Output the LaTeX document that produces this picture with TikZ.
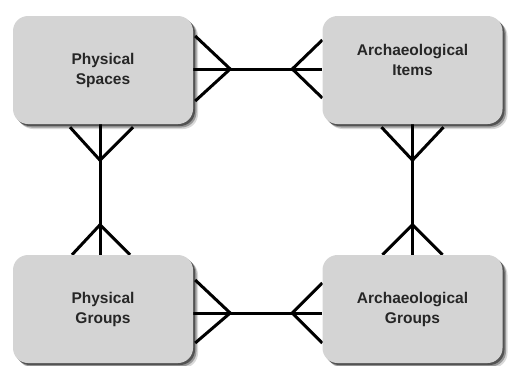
\documentclass[tikz,border=0pt]{standalone}
\usepackage{fontspec}
\setmainfont{Liberation Sans}
\usetikzlibrary{calc,shadows,backgrounds}
\definecolor{boxfill}{HTML}{D4D4D4}
\definecolor{txt}{HTML}{262626}
\tikzset{
  entity/.style={rounded corners=15pt, fill=boxfill, minimum width=180pt, minimum height=108pt,
    inner sep=0pt, align=center, text=txt, font=\bfseries\fontsize{15.5}{20}\selectfont,
    drop shadow={shadow xshift=5pt, shadow yshift=-5pt, opacity=0.15, fill=black},
    drop shadow={shadow xshift=3.5pt, shadow yshift=-3.5pt, opacity=0.3, fill=black},
    drop shadow={shadow xshift=2pt, shadow yshift=-2pt, opacity=0.45, fill=black}},
  conn/.style={line width=3pt, black}
}
\begin{document}
\begin{tikzpicture}[x=1pt,y=-1pt]
\useasboundingbox (0,0) rectangle (510,365);
\node[entity] (ps) at (103,70) {Physical\\Spaces};
\node[entity] (ai) at (412.5,70) {Archaeological\\Items\\\mbox{}};
\node[entity] (pg) at (103,309) {Physical\\Groups};
\node[entity] (ag) at (412.5,309) {Archaeological\\Groups};
\begin{scope}[on background layer]
% top horizontal relationship
\draw[conn] ($(ps.east)+(0,-1)$) -- ($(ai.west)+(0,-1)$);
\draw[conn] ($(ps.east)+(2,-34)$) -- ($(ps.east)+(37,-1)$) -- ($(ps.east)+(2,31)$);
\draw[conn] ($(ai.west)+(0,-30)$) -- ($(ai.west)+(-30,-1)$) -- ($(ai.west)+(0,28)$);
% bottom horizontal relationship
\draw[conn] ($(pg.east)+(0,4)$) -- ($(ag.west)+(0,4)$);
\draw[conn] ($(pg.east)+(2,-29)$) -- ($(pg.east)+(37,4)$) -- ($(pg.east)+(2,34)$);
\draw[conn] ($(ag.west)+(0,-26)$) -- ($(ag.west)+(-30,4)$) -- ($(ag.west)+(0,34)$);
% left vertical relationship
\draw[conn] ($(ps.south)+(-3,0)$) -- ($(pg.north)+(-3,0)$);
\draw[conn] ($(ps.south)+(-33,3)$) -- ($(ps.south)+(-3,36)$) -- ($(ps.south)+(30,3)$);
\draw[conn] ($(pg.north)+(-31,0)$) -- ($(pg.north)+(-3,-30)$) -- ($(pg.north)+(27,0)$);
% right vertical relationship
\draw[conn] (ai.south) -- (ag.north);
\draw[conn] ($(ai.south)+(-31,3)$) -- ($(ai.south)+(0,36)$) -- ($(ai.south)+(31,3)$);
\draw[conn] ($(ag.north)+(-30,0)$) -- ($(ag.north)+(0,-30)$) -- ($(ag.north)+(30,0)$);
\end{scope}
\end{tikzpicture}
\end{document}
